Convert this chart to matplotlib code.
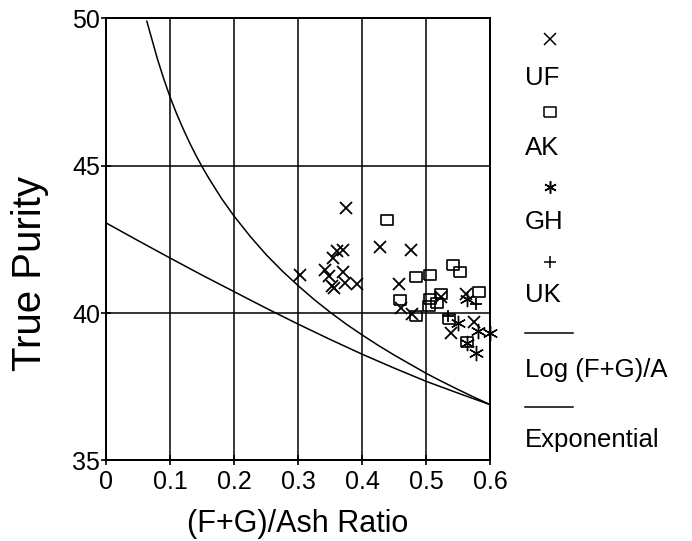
#!/usr/bin/env python3
"""
True Purity vs (F+G)/Ash ratio, with log and exponential fits
"""

import matplotlib
matplotlib.use("Agg")
import matplotlib.pyplot as plt
from matplotlib.lines import Line2D

plt.rcParams['font.family'] = ['Liberation Sans', 'DejaVu Sans']

# Dati
uf_x = [0.375, 0.303, 0.360, 0.370, 0.354, 0.341, 0.347, 0.370, 0.353, 0.356,
        0.372, 0.391, 0.427, 0.476, 0.457, 0.460, 0.478, 0.523, 0.562, 0.574, 0.539]
uf_y = [43.56, 41.29, 42.09, 42.15, 41.86, 41.45, 41.27, 41.38, 40.93, 40.86,
        41.02, 40.99, 42.24, 42.15, 40.99, 40.17, 39.98, 40.56, 40.66, 39.71, 39.34]

ak_x = [0.439, 0.484, 0.506, 0.541, 0.553, 0.582, 0.522, 0.505, 0.504, 0.517,
        0.458, 0.484, 0.535, 0.563]
ak_y = [43.16, 41.22, 41.29, 41.64, 41.41, 40.72, 40.66, 40.47, 40.25, 40.34,
        40.43, 39.91, 39.80, 39.01]

gh_x = [0.563, 0.550, 0.581, 0.600, 0.577, 0.563]
gh_y = [40.47, 39.66, 39.38, 39.32, 38.64, 38.98]

uk_x = [0.578, 0.534]
uk_y = [40.32, 39.89]

log_x = [0.063, 0.07, 0.08, 0.09, 0.10, 0.11, 0.12, 0.13, 0.14, 0.15, 0.16, 0.18,
         0.20, 0.225, 0.25, 0.275, 0.30, 0.325, 0.35, 0.375, 0.40, 0.425, 0.45,
         0.475, 0.50, 0.525, 0.55, 0.575, 0.60]
log_y = [49.9, 49.36, 48.59, 47.91, 47.29, 46.74, 46.24, 45.77, 45.34, 44.94,
         44.57, 43.88, 43.27, 42.59, 41.97, 41.42, 40.92, 40.45, 40.02, 39.62,
         39.25, 38.90, 38.57, 38.26, 37.95, 37.67, 37.40, 37.14, 36.89]

exp_x = [0.0, 0.05, 0.10, 0.15, 0.20, 0.25, 0.30, 0.35, 0.40, 0.45, 0.50, 0.55, 0.60]
exp_y = [43.05, 42.45, 41.86, 41.28, 40.72, 40.16, 39.62, 39.10, 38.60, 38.13,
         37.68, 37.28, 36.89]

x_ticks = [0, 0.1, 0.2, 0.3, 0.4, 0.5, 0.6]
x_tick_labels = ['0', '0.1', '0.2', '0.3', '0.4', '0.5', '0.6']
y_ticks = [35, 40, 45, 50]

# marker rettangolare (piu' largo che alto)
rect_marker = [(-1, -0.75), (1, -0.75), (1, 0.75), (-1, 0.75), (-1, -0.75)]
star_marker = (6, 2, 0)

fig = plt.figure(figsize=(6.92, 5.41), dpi=100)
ax = fig.add_axes([0.1539, 0.1488, 0.5549, 0.8174])

ax.set_xlim(0, 0.6)
ax.set_ylim(35, 50)
ax.set_xticks(x_ticks)
ax.set_xticklabels(x_tick_labels)
ax.set_yticks(y_ticks)
ax.grid(True, color='black', linewidth=1.1)
ax.set_axisbelow(True)
for sp in ax.spines.values():
    sp.set_linewidth(1.4)
ax.tick_params(axis='both', direction='inout', length=7, width=1.2,
               labelsize=18, colors='black')
ax.tick_params(axis='y', pad=1)
ax.tick_params(axis='x', pad=3)

# curve
ax.plot(log_x, log_y, color='black', linewidth=1.1)
ax.plot(exp_x, exp_y, color='black', linewidth=1.1)

# punti
ax.plot(uf_x, uf_y, linestyle='none', marker='x', markersize=8,
        markeredgewidth=1.3, color='black', clip_on=False)
ax.plot(ak_x, ak_y, linestyle='none', marker=rect_marker, markersize=9,
        markeredgewidth=1.2, markerfacecolor='none', color='black', clip_on=False)
ax.plot(gh_x, gh_y, linestyle='none', marker=star_marker, markersize=11,
        markeredgewidth=1.0, color='black', clip_on=False)
ax.plot(uk_x, uk_y, linestyle='none', marker='+', markersize=9,
        markeredgewidth=1.3, color='black', clip_on=False)

ax.set_xlabel('(F+G)/Ash Ratio', fontsize=22)
ax.xaxis.set_label_coords(0.497, -0.1436)
ax.xaxis.label.set_va('center')
ax.set_ylabel('True Purity', fontsize=29)
ax.yaxis.set_label_coords(-0.199, 0.424)
ax.yaxis.label.set_va('center')

# legenda costruita a mano: simbolo sopra, etichetta sotto
W, H = 692.0, 541.0
legend_items = [
    ('x', 'UF', 39, 78),
    (rect_marker, 'AK', 112, 148),
    (star_marker, 'GH', 187, 222),
    ('+', 'UK', 262, 295),
    ('line', 'Log (F+G)/A', 333, 370),
    ('line', 'Exponential', 407, 440),
]
for sym, label, sy, ty in legend_items:
    if sym == 'line':
        fig.add_artist(Line2D([525 / W, 573 / W], [1 - sy / H, 1 - sy / H],
                              color='black', linewidth=1.1))
    else:
        face = 'none' if sym is rect_marker else 'black'
        size = {'x': 8, '+': 8}.get(sym if isinstance(sym, str) else '', 9)
        fig.add_artist(Line2D([550 / W], [1 - sy / H], marker=sym,
                              markersize=size, markeredgewidth=1.1,
                              markerfacecolor=face, color='black',
                              linestyle='none'))
    fig.text(525 / W, 1 - ty / H, label, fontsize=18.5, va='center', ha='left')

fig.savefig('out.png', dpi=100)
